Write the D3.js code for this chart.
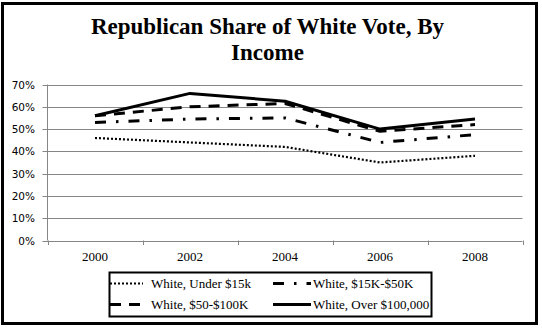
<!DOCTYPE html>
<html>
<head>
<meta charset="utf-8">
<script src="https://cdn.jsdelivr.net/npm/d3@7"></script>
<style>body { margin: 0; }</style>
</head>
<body>
<svg width="542" height="328"></svg>
<script>
// chart data
var years = ["2000", "2002", "2004", "2006", "2008"];
var yTicks = [0, 10, 20, 30, 40, 50, 60, 70];
var under15 = [46, 44, 42, 35, 38];
var from15to50 = [53, 54.5, 55, 44, 47.5];
var from50to100 = [56, 60, 61.5, 49, 52];
var over100 = [56, 66, 62.5, 50, 54.5];

var seriesNames = ["White, Under $15k", "White, $15K-$50K", "White, $50-$100K", "White, Over $100,000"];
var seriesValues = [under15, from15to50, from50to100, over100];
var dashes = ["2,2", "11,10,2.5,10", "11,8", null];
var widths = [2.2, 3, 3, 3];

var serif = "'Liberation Serif'";
var sans = "'DejaVu Sans'";

var svg = d3.select("svg");

// outer frame
svg.append("rect")
  .attr("x", 2.5).attr("y", 3.5)
  .attr("width", 534).attr("height", 320)
  .attr("fill", "none")
  .attr("stroke", "#000")
  .attr("stroke-width", 3);

// title
var titleLines = ["Republican Share of White Vote, By", "Income"];
var titleY = [34, 60];
svg.selectAll(".title")
  .data(titleLines)
  .enter()
  .append("text")
  .attr("class", "title")
  .style("font-family", serif)
  .style("font-weight", "bold")
  .style("font-size", "23px")
  .attr("text-anchor", "middle")
  .attr("x", 267.5)
  .attr("y", function(d, i) { return titleY[i]; })
  .text(function(d) { return d; });

var xScale = d3.scaleBand()
  .domain(years)
  .range([47.5, 522.5])
  .padding(0);

var yScale = d3.scaleLinear()
  .domain([0, 70])
  .range([240.5, 84.5]);

var cx = function(d) { return xScale(d) + xScale.bandwidth() / 2; };

// gridlines
svg.append("g")
  .selectAll("line")
  .data(yTicks)
  .enter()
  .append("line")
  .attr("x1", 42.5)
  .attr("x2", 522.5)
  .attr("y1", function(d) { return Math.round(yScale(d)) + 0.5; })
  .attr("y2", function(d) { return Math.round(yScale(d)) + 0.5; })
  .attr("stroke", "#868686")
  .attr("stroke-width", 1);

// y axis line
svg.append("line")
  .attr("x1", 47.5).attr("x2", 47.5)
  .attr("y1", 84.5).attr("y2", 240.5)
  .attr("stroke", "#868686");

// y labels
svg.selectAll(".ylab")
  .data(yTicks)
  .enter()
  .append("text")
  .attr("class", "ylab")
  .style("font-family", sans)
  .style("font-size", "10.5px")
  .attr("x", 35)
  .attr("y", function(d) { return yScale(d) + 4; })
  .attr("text-anchor", "end")
  .text(function(d) { return d + "%"; });

// x ticks at band edges
var edges = years.map(function(d) { return xScale(d); }).concat([522.5]);
svg.append("g")
  .selectAll("line")
  .data(edges)
  .enter()
  .append("line")
  .attr("x1", function(d) { return Math.round(d) + 0.5; })
  .attr("x2", function(d) { return Math.round(d) + 0.5; })
  .attr("y1", 240.5)
  .attr("y2", 245)
  .attr("stroke", "#868686");

// x labels
svg.selectAll(".xlab")
  .data(years)
  .enter()
  .append("text")
  .attr("class", "xlab")
  .style("font-family", serif)
  .style("font-size", "13px")
  .attr("x", cx)
  .attr("y", 261)
  .attr("text-anchor", "middle")
  .text(function(d) { return d; });

// lines
var line = d3.line()
  .x(function(d, i) { return cx(years[i]); })
  .y(function(d) { return yScale(d); });

svg.append("g")
  .selectAll("path")
  .data(seriesValues)
  .enter()
  .append("path")
  .attr("d", line)
  .attr("fill", "none")
  .attr("stroke", "#000")
  .attr("stroke-width", function(d, i) { return widths[i]; })
  .attr("stroke-dasharray", function(d, i) { return dashes[i]; })
  .attr("stroke-linejoin", "round");

// legend
svg.append("rect")
  .attr("x", 109.5).attr("y", 272.5)
  .attr("width", 322).attr("height", 44)
  .attr("fill", "#fff")
  .attr("stroke", "#000")
  .attr("stroke-width", 2);

var legX = [110, 273];
var legY = [283.5, 304.5];
var legend = svg.append("g")
  .selectAll("g")
  .data(seriesNames)
  .enter()
  .append("g")
  .attr("transform", function(d, i) {
    return "translate(" + legX[i % 2] + "," + legY[Math.floor(i / 2)] + ")";
  });

legend.append("line")
  .attr("x1", 0)
  .attr("x2", function(d, i) { return i % 2 ? 38 : 33; })
  .attr("y1", 0).attr("y2", 0)
  .attr("stroke", "#000")
  .attr("stroke-width", function(d, i) { return widths[i]; })
  .attr("stroke-dasharray", function(d, i) { return dashes[i]; });

legend.append("text")
  .style("font-family", serif)
  .style("font-size", "13px")
  .attr("x", function(d, i) { return i % 2 ? 40 : 41; })
  .attr("y", 4)
  .text(function(d) { return d; });
</script>
</body>
</html>
